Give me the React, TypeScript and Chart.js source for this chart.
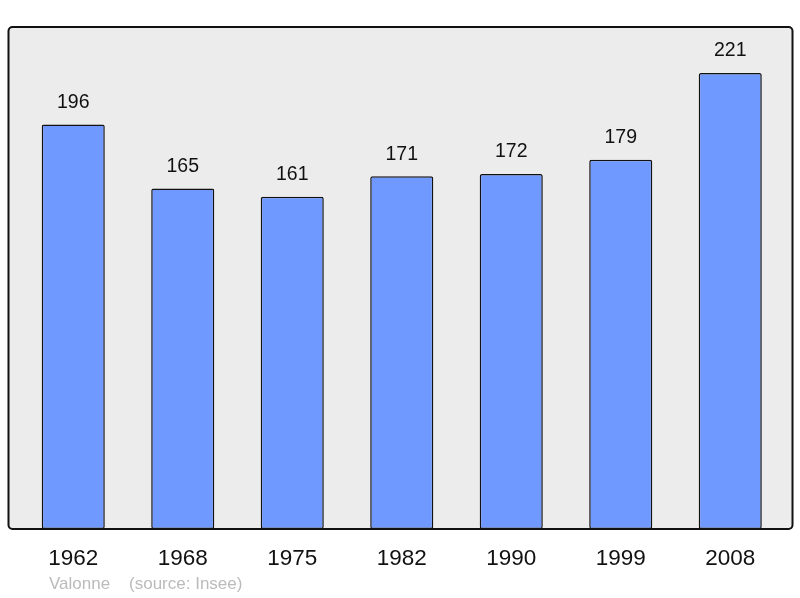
import React, { useEffect, useRef } from "react";
import { Chart, registerables } from "chart.js";

Chart.register(...registerables);

const years = ["1962", "1968", "1975", "1982", "1990", "1999", "2008"];
const population = [196, 165, 161, 171, 172, 179, 221];
const footerText = "Valonne    (source: Insee)";

const framePlugin = {
  id: "frame",
  beforeDatasetsDraw(chart: any) {
    const { ctx, chartArea } = chart;
    const l = chartArea.left - 10, r = chartArea.right + 7.5, t = chartArea.top, b = chartArea.bottom;
    ctx.save();
    ctx.beginPath();
    ctx.roundRect(l, t, r - l, b - t, 4);
    ctx.fillStyle = "#ececec";
    ctx.fill();
    ctx.restore();
  },
  afterDatasetsDraw(chart: any) {
    const { ctx, chartArea } = chart;
    const l = chartArea.left - 10, r = chartArea.right + 7.5, t = chartArea.top, b = chartArea.bottom;
    ctx.save();
    ctx.beginPath();
    ctx.roundRect(l, t, r - l, b - t, 4);
    ctx.lineWidth = 2;
    ctx.strokeStyle = "#111";
    ctx.stroke();
    const meta = chart.getDatasetMeta(0);
    ctx.fillStyle = "#111";
    ctx.font = "19.5px 'Liberation Sans', Arial, sans-serif";
    ctx.textAlign = "center";
    ctx.textBaseline = "middle";
    meta.data.forEach((bar: any, i: number) => {
      ctx.fillText(String(population[i]), bar.x, bar.y - 22);
    });
    ctx.fillStyle = "#bbbbbb";
    ctx.font = "17px 'Liberation Sans', Arial, sans-serif";
    ctx.textAlign = "left";
    ctx.fillText(footerText, 49, 584);
    ctx.restore();
  },
};

export default function App() {
  const ref = useRef<HTMLCanvasElement>(null);
  useEffect(() => {
    document.body.style.margin = "0";
    const chart = new Chart(ref.current!, {
      type: "bar",
      data: {
        labels: years,
        datasets: [
          {
            data: population,
            backgroundColor: "#7099ff",
            borderColor: "#111",
            borderWidth: 1.5,
            borderRadius: 2,
            borderSkipped: false,
            categoryPercentage: 1,
            barPercentage: 0.576,
          },
        ],
      },
      options: {
        responsive: false,
        animation: false,
        layout: { padding: { left: 18.5, right: 15, top: 27, bottom: 18 } },
        plugins: { legend: { display: false }, tooltip: { enabled: false } },
        scales: {
          x: {
            grid: { display: false },
            border: { display: false },
            ticks: {
              color: "#111",
              padding: 8,
              font: { size: 22.5, family: "'Liberation Sans', Arial, sans-serif" },
            },
          },
          y: { display: false, min: 0, max: 243.3 },
        },
      },
      plugins: [framePlugin],
    });
    return () => chart.destroy();
  }, []);
  return <canvas ref={ref} width={800} height={598} style={{ display: "block" }} />;
}
